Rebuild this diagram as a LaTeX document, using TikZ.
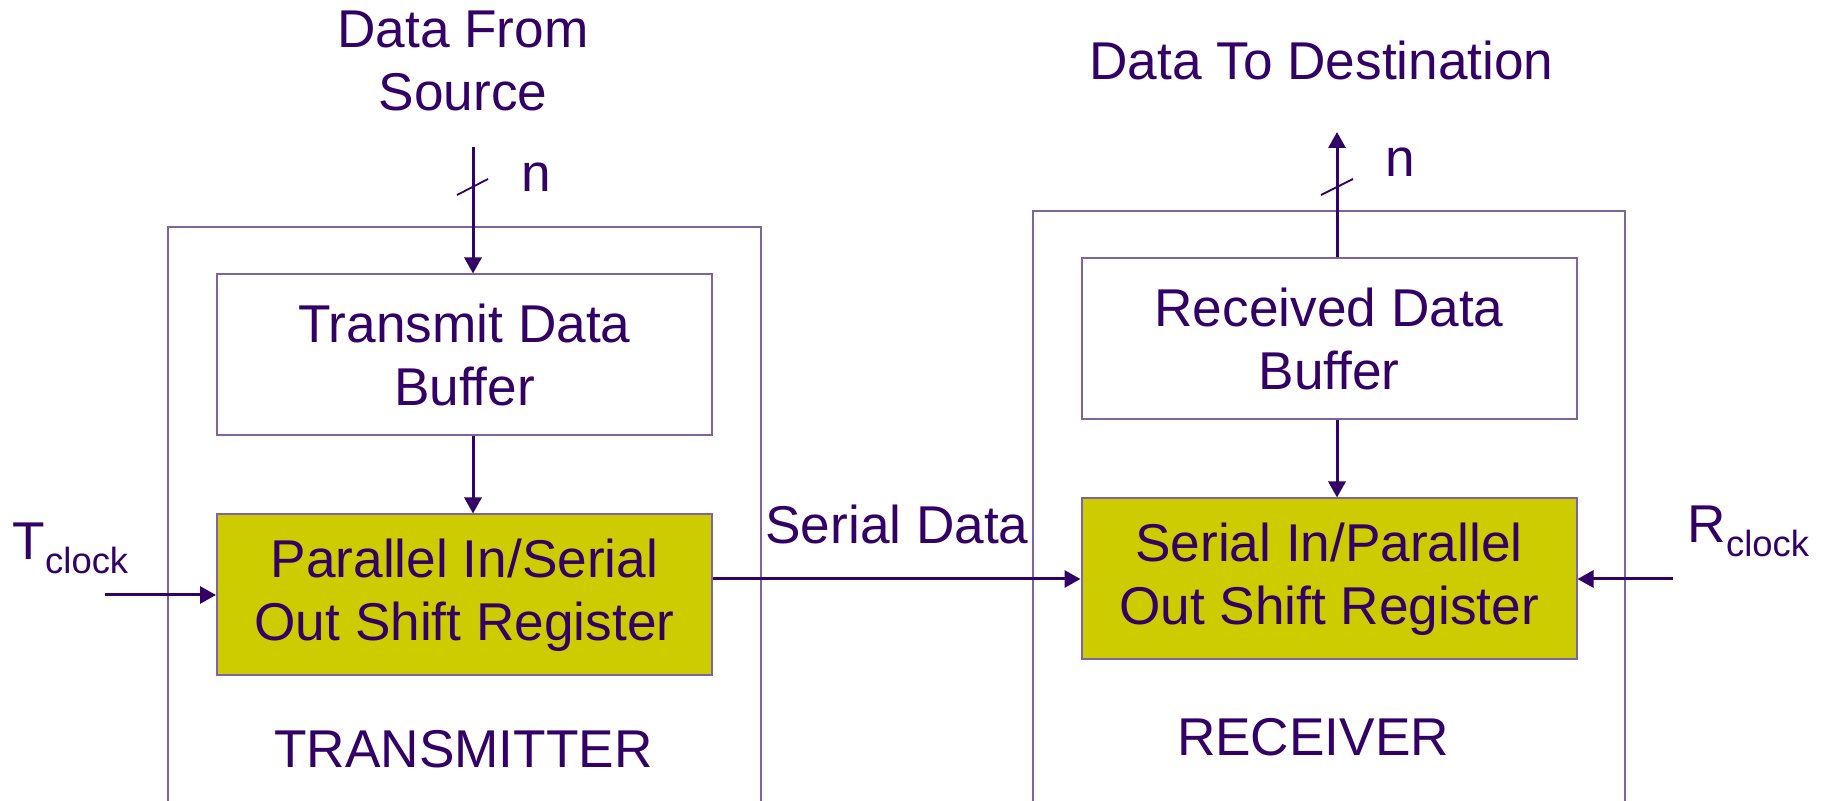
\documentclass[tikz,border=0pt]{standalone}
\usepackage{fontspec}
\setmainfont{Liberation Sans}
\usetikzlibrary{arrows.meta}

\definecolor{ink}{HTML}{330066}
\definecolor{rule}{HTML}{8064A2}
\definecolor{regfill}{HTML}{CCCC00}

\newcommand{\clocksub}{\raisebox{-6.9pt}{\fontsize{18.2}{20}\selectfont clock}}

\tikzset{every picture/.style={line width=0.75pt}}
\tikzset{
  buffer/.style={draw=rule, line width=1pt, fill=white, minimum width=247.5pt, minimum height=80.5pt, align=center, text=ink, inner sep=0pt},
  shiftreg/.style={buffer, fill=regfill},
  frame/.style={draw=rule, line width=1pt},
  sig/.style={draw=ink, line width=1.5pt, -{Triangle[length=8pt,width=8.5pt]}},
  tick/.style={draw=ink, line width=0.9pt},
  lbl/.style={text=ink, inner sep=0pt, align=center}
}

\begin{document}
\begin{tikzpicture}[x=0.5pt,y=0.5pt,yscale=-1,xscale=1,font=\fontsize{26.6}{31.5}\selectfont]
\useasboundingbox (0,0) rectangle (1821,801);

%Shape: Transmitter frame
\draw [frame] (168,801) -- (168,227) -- (761,227) -- (761,801) ;
%Shape: Receiver frame
\draw [frame] (1033,801) -- (1033,211) -- (1625,211) -- (1625,801) ;

%Shape: Rectangle
\node [buffer] (tdb) at (464.5,355) {Transmit Data\\Buffer};
%Shape: Rectangle
\node [shiftreg] (piso) at (464.5,595) {Parallel In/Serial\\Out Shift Register};
%Shape: Rectangle
\node [buffer] (rdb) at (1329,339) {Received Data\\Buffer};
%Shape: Rectangle
\node [shiftreg] (sipo) at (1329,579) {Serial In/Parallel\\Out Shift Register};

\coordinate (src) at (473,147);
\coordinate (dst) at (1337,132);
\coordinate (tin) at (105,595);
\coordinate (rin) at (1673,579);

%Straight Lines
\draw [sig] (src) -- (src |- tdb.north) ;
\draw [sig] (src |- tdb.south) -- (src |- piso.north) ;
\draw [sig] (dst |- rdb.north) -- (dst) ;
\draw [sig] (dst |- rdb.south) -- (dst |- sipo.north) ;
\draw [sig] (tin) -- (piso.west) ;
\draw [sig] (piso.east |- sipo.west) -- (sipo.west) ;
\draw [sig] (rin) -- (sipo.east) ;
%Straight Lines (bus ticks)
\draw [tick] (457,195) -- (488,179) ;
\draw [tick] (1321,195) -- (1353,179) ;

% Text Node
\node [lbl] (srclbl) at (463,61) {Data From\\Source};
% Text Node
\node [lbl, anchor=base] (dstlbl) at (1321.5,80) {Data To Destination};
% Text Node
\node [lbl, anchor=base] (nin) at (536.5,192) {n};
% Text Node
\node [lbl, anchor=base] (nout) at (1400.5,177) {n};
% Text Node
\node [lbl, anchor=base] (serlbl) at (897,544) {Serial Data};
% Text Node
\node [lbl, anchor=base west] (tclk) at (12,560) {T\clocksub};
% Text Node
\node [lbl, anchor=base west] (rclk) at (1687,543) {R\clocksub};
% Text Node
\node [lbl, anchor=base] (txlbl) at (463.5,768) {TRANSMITTER};
% Text Node
\node [lbl, anchor=base] (rxlbl) at (1313,755) {RECEIVER};

\end{tikzpicture}
\end{document}
